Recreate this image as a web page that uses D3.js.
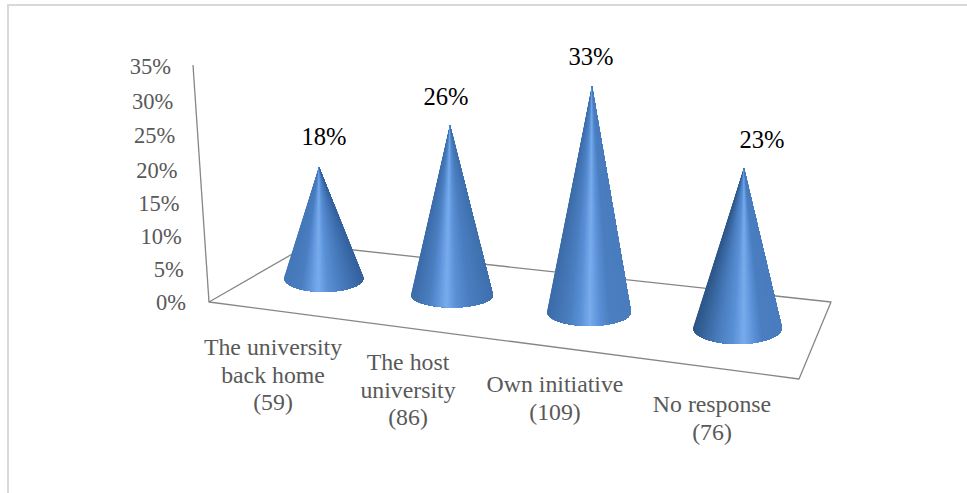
<!DOCTYPE html>
<html><head><meta charset="utf-8">
<script src="https://cdn.jsdelivr.net/npm/d3@7"></script>
<style>html,body{margin:0;padding:0;background:#fff}svg{display:block}text{font-family:"Liberation Serif",serif}</style>
</head><body><svg id="c" width="967" height="493"></svg>
<script>
const categories=[["The university","back home","(59)"],["The host","university","(86)"],["Own initiative","(109)"],["No response","(76)"]];
const values=[18,26,33,23];
const tickValues=[0,5,10,15,20,25,30,35];

const svg=d3.select("#c");
const idx=[0,1,2,3];
const stops=(a)=>d3.scaleLinear().domain(idx).range(a);
// Perspective projection of the chart, one stop per category slot
const cx=stops([323.7,452,589,737.5]), cy=stops([278,295,312,328]);
const rx=stops([39.8,41,42,44.5]), ry=stops([14,12.5,14,16]);
const unit=stops([6.17,6.54,6.85,6.96]), lean=stops([-4.7,-2,3,6.5]);
const labelDx=stops([5,-4,-1,18]), labelDy=stops([-22,-20,-21,-20]);
const highlight=stops([.43,.43,.51,.57]);
const leftCol=stops([0,1,1,2]), rightCol=stops([0,1,2,2]);
const edgeL=d3.scaleLinear().domain([0,1,2]).range(["#4478b8","#3c6ca8","#2d5688"]);
const edgeR=d3.scaleLinear().domain([0,1,2]).range(["#34629e","#3f70ae","#4a7dbe"]);

// frame
svg.append("path").attr("d","M8 493V5H967").attr("fill","none").attr("stroke","#d9d9d9").attr("stroke-width",2);

// walls and floor
const wall="#868686";
const axisY=d3.scaleLinear().domain([0,17.5,35]).range([303,187.5,67]);
const axisX=d3.scaleLinear().domain([0,35]).range([186,171]);
const lineX=d3.scaleLinear().domain([0,35]).range([209,193]);
const lineY=d3.scaleLinear().domain([0,35]).range([302,65]);
svg.append("line").attr("x1",lineX(0)).attr("y1",lineY(0)).attr("x2",lineX(35)).attr("y2",lineY(35)).attr("stroke",wall).attr("stroke-width",1.3);
svg.append("path").attr("d","M209 302L308 245L831 302L799 379Z").attr("fill","none").attr("stroke",wall).attr("stroke-width",1.3).attr("stroke-linejoin","round");

svg.append("g").selectAll("text").data(tickValues).join("text")
 .attr("x",d=>axisX(d)).attr("y",d=>axisY(d)).attr("dy",".33em").attr("text-anchor","end")
 .attr("font-size",22.5).attr("fill","#595959").text(d=>d+"%");

// cones: nested wedges painted left to right, each reaching to the right silhouette
const N=70;
values.forEach((v,i)=>{
  const ax=cx(i)+lean(i), ay=cy(i)-v*unit(i);
  const hl=highlight(i);
  const col=d3.scaleLinear().domain([0,hl*.5,hl-.12,hl,hl+.12,hl+(1-hl)*.5,1])
    .range([edgeL(leftCol(i)),"#4a7ec0","#5a90d6","#78acee","#5a90d6","#4a7ec0",edgeR(rightCol(i))]);
  const pt=k=>{const t=Math.PI*(1-k/N);return [cx(i)+Math.cos(t)*rx(i),cy(i)+Math.sin(t)*ry(i)];};
  const g=svg.append("g");
  g.selectAll("path").data(d3.range(N)).join("path")
   .attr("d",k=>{
     const arc=d3.range(k,N+1).map(pt);
     return `M${ax} ${ay}L`+arc.map(p=>p.join(" ")).join("L")+"Z";
   })
   .attr("fill",k=>col((1+Math.cos(Math.PI*(1-(k+.5)/N)))/2));
  svg.append("text").attr("x",ax+labelDx(i)).attr("y",ay+labelDy(i)).attr("text-anchor","middle")
   .attr("font-size",24.6).attr("fill","#000").text(v+"%");
});

// category labels
const catX=stops([273,408,555,712]), catY=stops([355,370,392,412]);
svg.append("g").selectAll("text").data(categories).join("text")
 .attr("text-anchor","middle").attr("font-size",23.8).attr("fill","#595959")
 .each(function(lines,i){
   d3.select(this).selectAll("tspan").data(lines).join("tspan")
    .attr("x",catX(i)).attr("y",(d,j)=>catY(i)+j*27.5).text(d=>d);
 });
</script></body></html>
